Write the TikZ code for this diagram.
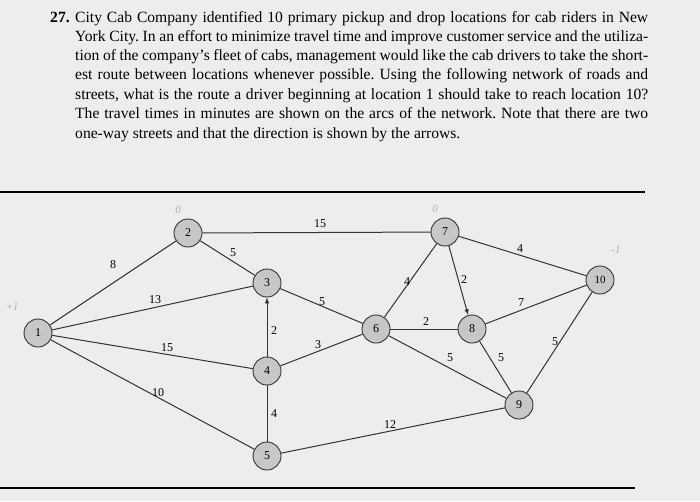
\documentclass[tikz,border=0pt]{standalone}
\usepackage{fontspec}
\setmainfont{Liberation Serif}
\begin{document}
\frenchspacing
\begin{tikzpicture}[x=1pt,y=-1pt,
  nd/.style={circle,draw=black!80,fill=black!22,line width=0.9pt,minimum size=28pt,inner sep=0pt,font=\fontsize{12}{13}\selectfont},
  ed/.style={line width=1pt,black!80},
  lb/.style={font=\fontsize{12}{13}\selectfont,inner sep=1pt},
  pen/.style={font=\fontsize{11}{12}\selectfont\itshape,text=black!30},
  tl/.style={anchor=base west,inner sep=0pt,font=\fontsize{15.6}{17}\selectfont}]
\fill[black!7] (0,0) rectangle (700,501);
\useasboundingbox (0,0) rectangle (700,501);
% text
\node[tl,font=\fontsize{15.6}{17}\selectfont\bfseries] (num) at (50,22) {27.};
\node[tl] (l1) at (75,22) {\makebox[573pt][s]{City Cab Company identified 10 primary pickup and drop locations for cab riders in New}};
\node[tl] (l2) at (75,41) {\makebox[573pt][s]{York City. In an effort to minimize travel time and improve customer service and the utiliza-}};
\node[tl] (l3) at (75,60) {\makebox[573pt][s]{tion of the company’s fleet of cabs, management would like the cab drivers to take the short-}};
\node[tl] (l4) at (75,79) {\makebox[573pt][s]{est route between locations whenever possible. Using the following network of roads and}};
\node[tl] (l5) at (75,99) {\makebox[573pt][s]{streets, what is the route a driver beginning at location 1 should take to reach location 10?}};
\node[tl] (l6) at (75,118) {\makebox[573pt][s]{The travel times in minutes are shown on the arcs of the network. Note that there are two}};
\node[tl] (l7) at (75,138) {one-way streets and that the direction is shown by the arrows.};
% rules
\draw[line width=2.5pt] (0,192) -- (645,192);
\draw[line width=2.5pt] (0,488) -- (635,488);
% nodes
\node[nd] (n1) at (38,333) {1};
\node[nd] (n2) at (188,233) {2};
\node[nd] (n3) at (267,283) {3};
\node[nd] (n4) at (267,371) {4};
\node[nd] (n5) at (267,456) {5};
\node[nd] (n6) at (376,329) {6};
\node[nd] (n7) at (445,232) {7};
\node[nd] (n8) at (472,329) {8};
\node[nd] (n9) at (519,405) {9};
\node[nd,font=\fontsize{11}{12}\selectfont] (n10) at (600,280) {10};
% edges
\draw[ed] (n1) -- (n2);
\draw[ed] (n1) -- (n3);
\draw[ed] (n1) -- (n4);
\draw[ed] (n1) -- (n5);
\draw[ed] (n2) -- (n7);
\draw[ed] (n2) -- (n3);
\draw[ed] (n3) -- (n6);
\draw[ed,-latex] (n4) -- (n3);
\draw[ed] (n4) -- (n6);
\draw[ed] (n4) -- (n5);
\draw[ed] (n5) -- (n9);
\draw[ed] (n6) -- (n7);
\draw[ed] (n6) -- (n8);
\draw[ed] (n6) -- (n9);
\draw[ed,-latex] (n7) -- (n8);
\draw[ed] (n7) -- (n10);
\draw[ed] (n8) -- (n10);
\draw[ed] (n8) -- (n9);
\draw[ed] (n9) -- (n10);
% labels
\node[lb] (a) at (113,265) {8};
\node[lb] (b) at (155,300) {13};
\node[lb] (c) at (167,348) {15};
\node[lb] (d) at (158,393) {10};
\node[lb] (e) at (320,224) {15};
\node[lb] (f) at (233,253) {5};
\node[lb] (g) at (322,302) {5};
\node[lb] (h) at (274,331) {2};
\node[lb] (i) at (318,345) {3};
\node[lb] (j) at (274,414) {4};
\node[lb] (k) at (390,425) {12};
\node[lb] (m) at (407,282) {4};
\node[lb] (o) at (426,322) {2};
\node[lb] (p) at (450,358) {5};
\node[lb] (q) at (464,280) {2};
\node[lb] (r) at (520,249) {4};
\node[lb] (s) at (521,303) {7};
\node[lb] (t) at (501,358) {5};
\node[lb] (u) at (555,342) {5};
% pencil marks
\node[pen] (p1) at (12,307) {+1};
\node[pen] (p2) at (178,210) {0};
\node[pen] (p3) at (435,209) {0};
\node[pen] (p4) at (616,250) {-1};
\end{tikzpicture}
\end{document}
